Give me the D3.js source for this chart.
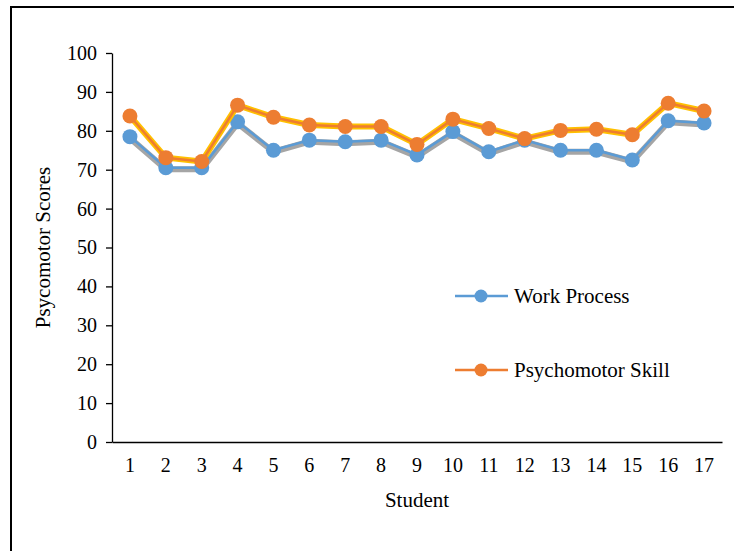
<!DOCTYPE html>
<html>
<head>
<meta charset="utf-8">
<script src="https://cdn.jsdelivr.net/npm/d3@7"></script>
<style>
  body { margin: 0; background: #fff; }
</style>
</head>
<body>
<div id="chart"></div>
<script>
// students 1..17
const students = ["1","2","3","4","5","6","7","8","9","10","11","12","13","14","15","16","17"];
const workProcess = [78.5, 70.5, 70.5, 82.3, 75, 77.6, 77.2, 77.6, 73.8, 79.8, 74.6, 77.6, 75, 75, 72.5, 82.6, 82];
const psychomotorSkill = [83.8, 73.1, 72.1, 86.6, 83.5, 81.5, 81.1, 81.1, 76.5, 83, 80.6, 78, 80.1, 80.4, 79, 87.1, 85.1];
const yTicks = [0, 10, 20, 30, 40, 50, 60, 70, 80, 90, 100];

var serif = "'Liberation Serif', 'Times New Roman', Times, serif";

var W = 734, H = 551;
var margin = {top: 53, right: 12, bottom: 109, left: 112},
    width = W - margin.left - margin.right,
    height = H - margin.top - margin.bottom;

var svg = d3.select("#chart").append("svg")
    .attr("width", W).attr("height", H)
    .style("font-family", serif);

// outer frame
svg.append("path")
  .attr("d", "M11," + H + "V7H" + W)
  .attr("fill", "none").attr("stroke", "#000").attr("stroke-width", 2);

var g = svg.append("g")
    .attr("transform", "translate(" + margin.left + "," + margin.top + ")");

var x = d3.scaleBand().domain(students).range([0, width]);
var y = d3.scaleLinear().domain([0, 100]).range([height, 0]);

// y axis
var yAxis = g.append("g")
  .call(d3.axisLeft(y).tickValues(yTicks).tickSize(6).tickSizeOuter(0).tickPadding(9))
  .attr("font-family", null);
yAxis.select(".domain").attr("stroke", "#000").attr("stroke-width", 1.3);
yAxis.selectAll(".tick line").attr("stroke", "#000").attr("stroke-width", 1.3);
yAxis.selectAll("text").style("font-family", serif).attr("font-size", "20px").attr("fill", "#000");

// x axis
var xAxis = g.append("g")
  .attr("transform", "translate(0," + height + ")")
  .call(d3.axisBottom(x).tickSize(0).tickPadding(16))
  .attr("font-family", null);
xAxis.select(".domain").attr("stroke", "#000").attr("stroke-width", 1.3);
xAxis.selectAll("text").style("font-family", serif).attr("font-size", "20px").attr("fill", "#000");

// axis titles
svg.append("text")
  .attr("transform", "translate(50," + (margin.top + height / 2) + ") rotate(-90)")
  .attr("text-anchor", "middle")
  .attr("font-size", "21px")
  .style("font-family", serif)
  .text("Psycomotor Scores");

svg.append("text")
  .attr("x", margin.left + width / 2)
  .attr("y", 507)
  .attr("text-anchor", "middle")
  .attr("font-size", "21px")
  .style("font-family", serif)
  .text("Student");

var line = d3.line()
  .x(function(d, i) { return x(students[i]) + x.bandwidth() / 2; })
  .y(function(d) { return y(d); });

var series = [
  {name: "Work Process", values: workProcess, color: "#5b9bd5", glow: "#a5a5a5", dy: 1.5},
  {name: "Psychomotor Skill", values: psychomotorSkill, color: "#ed7d31", glow: "#ffc000", dy: 0}
];

series.forEach(function(s) {
  g.append("path")
    .datum(s.values)
    .attr("transform", "translate(0," + s.dy + ")")
    .attr("fill", "none")
    .attr("stroke", s.glow)
    .attr("stroke-width", 6)
    .attr("stroke-linejoin", "round")
    .attr("d", line);
  g.append("path")
    .datum(s.values)
    .attr("fill", "none")
    .attr("stroke", s.color)
    .attr("stroke-width", 2.5)
    .attr("stroke-linejoin", "round")
    .attr("d", line);
  g.selectAll(null)
    .data(s.values)
    .enter()
    .append("circle")
      .attr("cx", function(d, i) { return x(students[i]) + x.bandwidth() / 2; })
      .attr("cy", function(d) { return y(d); })
      .attr("r", 7.5)
      .attr("fill", s.color);
});

// legend
var legend = svg.append("g");
series.forEach(function(s, i) {
  var ly = 296 + i * 74;
  legend.append("line")
    .attr("x1", 455).attr("x2", 508).attr("y1", ly).attr("y2", ly)
    .attr("stroke", s.color).attr("stroke-width", 2.5);
  legend.append("circle")
    .attr("cx", 481).attr("cy", ly).attr("r", 6.5)
    .attr("fill", s.color);
  legend.append("text")
    .attr("x", 514).attr("y", ly + 7)
    .attr("font-size", "21px")
    .style("font-family", serif)
    .text(s.name);
});
</script>
</body>
</html>
